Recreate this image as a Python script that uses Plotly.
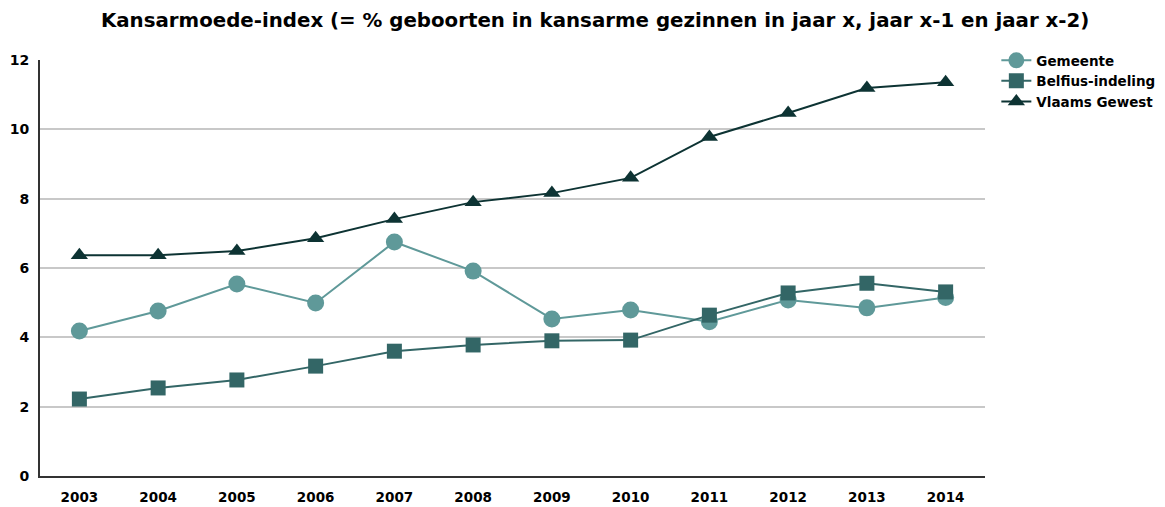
import plotly.graph_objects as go

years = ["2003", "2004", "2005", "2006", "2007", "2008", "2009", "2010", "2011", "2012", "2013", "2014"]
gemeente = [4.18, 4.76, 5.54, 4.99, 6.75, 5.91, 4.53, 4.79, 4.45, 5.08, 4.85, 5.15]
belfius = [2.22, 2.54, 2.77, 3.17, 3.60, 3.78, 3.90, 3.92, 4.64, 5.28, 5.56, 5.31]
vlaams = [6.37, 6.37, 6.49, 6.86, 7.41, 7.90, 8.16, 8.60, 9.78, 10.47, 11.19, 11.36]
y_ticks = [0, 2, 4, 6, 8, 10, 12]

font_family = "DejaVu Sans"

fig = go.Figure()
fig.add_trace(go.Scatter(
    x=years, y=gemeente, name="Gemeente", mode="lines+markers",
    line=dict(color="#5f9999", width=2),
    marker=dict(symbol="circle", size=17, color="#5f9999"),
))
fig.add_trace(go.Scatter(
    x=years, y=belfius, name="Belfius-indeling", mode="lines+markers",
    line=dict(color="#336666", width=2),
    marker=dict(symbol="square", size=15, color="#336666"),
))
fig.add_trace(go.Scatter(
    x=years, y=vlaams, name="Vlaams Gewest", mode="lines+markers",
    line=dict(color="#0d3333", width=2),
    marker=dict(symbol="triangle-up", size=15, color="#0d3333"),
))

fig.update_layout(
    width=1165, height=507,
    paper_bgcolor="white", plot_bgcolor="white",
    margin=dict(l=32, r=188, t=52, b=39, autoexpand=False),
    font=dict(family=font_family, color="black", size=13),
    title=dict(
        text="<b>Kansarmoede-index (= % geboorten in kansarme gezinnen in jaar x, jaar x-1 en jaar x-2)</b>",
        x=0.504, xanchor="center", y=0.976, yanchor="middle",
        font=dict(family=font_family, size=19.8, color="black"),
    ),
    legend=dict(
        x=1.012, y=1.036, xanchor="left", yanchor="top",
        font=dict(family=font_family, size=13.5, color="black", weight="bold"),
        tracegroupgap=0, itemwidth=30,
        bgcolor="rgba(0,0,0,0)",
    ),
    showlegend=True,
)
fig.update_xaxes(
    type="category", range=[-0.5, 11.5],
    showline=True, linecolor="#333333", linewidth=2,
    showgrid=False, ticks="", ticklabelstandoff=8,
    tickfont=dict(family=font_family, size=13.5, color="black", weight="bold"),
)
fig.update_yaxes(
    range=[0, 12], tickvals=y_ticks,
    showline=True, linecolor="#333333", linewidth=2,
    showgrid=True, gridcolor="#c8c8c8", gridwidth=2,
    zeroline=False, ticks="", ticklabelstandoff=6,
    tickfont=dict(family=font_family, size=14, color="black", weight="bold"),
)

fig.write_html("out.html")
